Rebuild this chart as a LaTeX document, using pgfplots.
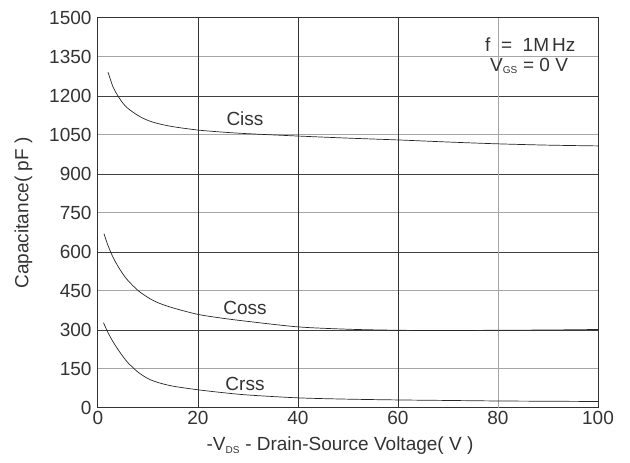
\documentclass[border=0pt]{standalone}
\usepackage{pgfplots}
\pgfplotsset{compat=1.18}
\usepackage{fontspec}
\setmainfont{Liberation Sans}
\newcommand\ff{\fontsize{19}{22}\selectfont}
\begin{document}
\begin{tikzpicture}
\begin{axis}[
  scale only axis,
  width=500pt, height=390pt,
  xmin=0, xmax=100, ymin=0, ymax=1500,
  xtick={0,20,40,60,80,100},
  ytick={0,150,...,1500},
  tick style={draw=none},
  /pgf/number format/assume math mode=true,
  /pgf/number format/1000 sep={},
  ticklabel style={font=\ff, text=black!80},
  xticklabel style={yshift=0pt},
  yticklabel style={xshift=-3pt},
  axis line style={line width=1pt, black!80},
  xlabel={-V\textsubscript{\fontsize{10}{10}\selectfont DS} - Drain-Source Voltage( V )},
  ylabel={Capacitance( pF )},
  xlabel style={font=\ff, text=black!80, yshift=-5pt, xshift=-8pt},
  ylabel style={font=\fontsize{19}{21}\selectfont, text=black!80, yshift=10pt},
  clip=false,
]
% grid lines
\foreach \yy in {300,600,900,1200} {
  \edef\tmp{\noexpand\draw[black!75, line width=0.9pt] (axis cs:0,\yy) -- (axis cs:100,\yy);}\tmp
}
\foreach \yy in {150,450,750,1050,1350} {
  \edef\tmp{\noexpand\draw[black!35, line width=1pt] (axis cs:0,\yy) -- (axis cs:100,\yy);}\tmp
}
\foreach \xx in {20,40,60} {
  \edef\tmp{\noexpand\draw[black!80, line width=0.9pt] (axis cs:\xx,0) -- (axis cs:\xx,1500);}\tmp
}
\draw[black!35, line width=1pt] (axis cs:80,0) -- (axis cs:80,1500);

% Ciss
\addplot[black!85, line width=0.7pt, smooth, no marks] coordinates {
(2,1292) (3,1235) (4,1200) (5,1172) (6,1152) (8,1125) (10,1106) (12,1094) (15,1082) (20,1069) (25,1061) (30,1055) (40,1046) (50,1038) (60,1031) (70,1023) (80,1016) (90,1011) (100,1008)
};
% Coss
\addplot[black!85, line width=0.7pt, smooth, no marks] coordinates {
(1.2,670) (2,625) (3,580) (4,545) (5,515) (6,490) (8,452) (10,425) (12,405) (15,385) (20,360) (25,345) (30,333) (40,312) (50,303) (60,299) (70,298) (80,299) (90,300) (100,302)
};
% Crss
\addplot[black!85, line width=0.7pt, smooth, no marks] coordinates {
(1.1,328) (2,290) (3,255) (4,225) (5,198) (6,174) (8,138) (10,113) (12,98) (15,84) (20,70) (25,59) (30,50) (40,39) (50,34) (60,31) (70,29) (80,27) (90,26) (100,25)
};

\node[font=\ff, text=black!80] at (axis cs:29.4,1112) {Ciss};
\node[font=\ff, text=black!80] at (axis cs:29.4,385) {Coss};
\node[font=\ff, text=black!80] at (axis cs:29.4,94) {Crss};
\node[font=\ff, text=black!80, anchor=base west, inner sep=0pt] at (axis cs:77.4,1372) {f\ \ =\ \ 1M\,Hz};
\node[font=\ff, text=black!80, anchor=base west, inner sep=0pt] at (axis cs:78.4,1295) {V\textsubscript{\fontsize{10}{10}\selectfont GS} = 0 V};
\end{axis}
\pgfresetboundingbox
\useasboundingbox (-98pt,-55pt) rectangle (532pt,408pt);
\end{tikzpicture}
\end{document}
